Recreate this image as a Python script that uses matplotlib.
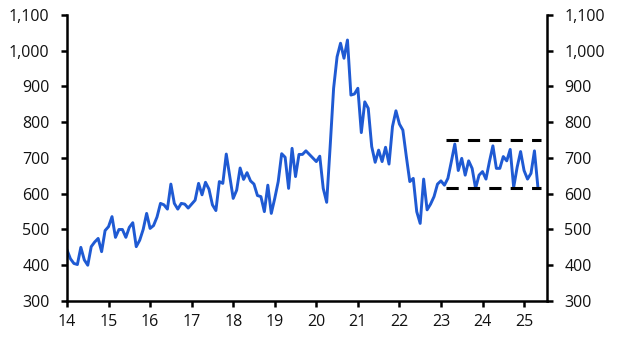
import numpy as np
import matplotlib.pyplot as plt
from matplotlib.ticker import FuncFormatter

# monthly series, Jan 2014 onwards
values = [443, 418, 405, 402, 450, 415, 400, 452, 465, 475, 438, 497,
          508, 536, 478, 500, 500, 478, 506, 519, 452, 470, 500, 545,
          503, 511, 535, 573, 569, 557, 627, 573, 557, 573, 571, 560,
          571, 582, 629, 597, 632, 613, 569, 553, 634, 629, 711, 648,
          587, 610, 672, 640, 659, 636, 627, 595, 592, 550, 624, 545,
          587, 634, 712, 702, 615, 727, 648, 710, 710, 720, 710, 700,
          690, 705, 615, 576, 732, 895, 983, 1021, 979, 1030, 876, 879,
          895, 771, 857, 839, 732, 688, 722, 690, 730, 683, 788, 832,
          795, 778, 704, 634, 643, 550, 517, 641, 555, 571, 592, 627,
          636, 624, 643, 690, 739, 665, 699, 652, 692, 671, 615, 652,
          662, 641, 690, 734, 671, 671, 704, 692, 724, 618, 674, 718,
          665, 641, 657, 720, 618]
start_year = 2014

band_start = 2023.13
band_end = 2025.41
band_low = 615
band_high = 750

year_ticks = list(range(2014, 2026))
year_labels = [str(y)[2:] for y in year_ticks]
y_ticks = list(range(300, 1101, 100))

x = start_year + np.arange(len(values)) / 12

plt.rcParams['font.family'] = ['Open Sans', 'DejaVu Sans']
fig = plt.figure(figsize=(6.29, 3.56), dpi=100)
ax = fig.add_axes([0.1065, 0.1545, 0.763, 0.8034])

ax.plot(x, values, color='#1f5ad3', lw=2.1, solid_joinstyle='round')
for lvl in (band_low, band_high):
    ax.plot([band_start, band_end], [lvl, lvl], color='black', lw=2.2,
            dashes=(4, 3))

ax.set_xlim(2014, 2025.55)
ax.set_ylim(300, 1100)
ax.set_xticks(year_ticks)
ax.set_xticklabels(year_labels)
ax.set_yticks(y_ticks)
ax.yaxis.set_major_formatter(FuncFormatter(lambda v, p: f'{int(v):,}'))

ax.spines['top'].set_visible(False)
for s in ('left', 'right', 'bottom'):
    ax.spines[s].set_linewidth(1.8)

ax.tick_params(axis='both', direction='out', length=4.5, width=1.8,
               labelsize=11.5, colors='black', labelcolor='#111111')
ax.tick_params(axis='y', pad=8, left=True, right=True,
               labelleft=True, labelright=True)
ax.tick_params(axis='x', pad=5)

fig.savefig('out.png', dpi=100)
